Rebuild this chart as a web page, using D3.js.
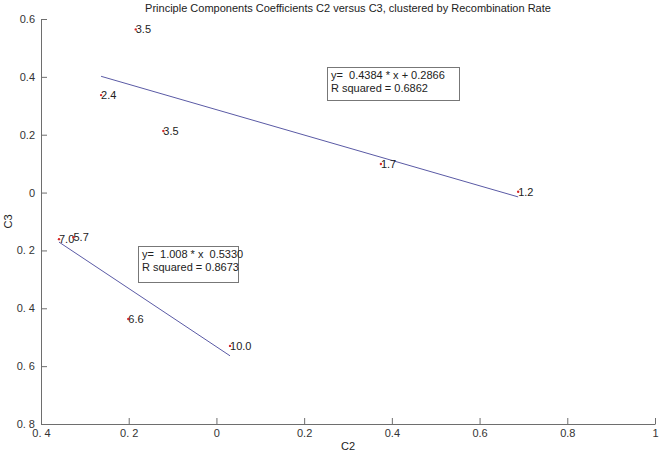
<!DOCTYPE html>
<html lang="en">
<head>
    <meta charset="UTF-8">
    <title>C2 versus C3</title>
    <script src="https://cdn.jsdelivr.net/npm/d3@7"></script>
    <style>
        body { margin: 0; background: #fff; }
        svg { font-family: "Liberation Sans", Arial, sans-serif; }
        svg text { white-space: pre; }
    </style>
</head>
<body>
    <div class="container"></div>
    <script>
        // tick values and labels as printed (minus signs are lost in the original)
        const xTicks = [-0.4, -0.2, 0, 0.2, 0.4, 0.6, 0.8, 1]
        const xTickLabels = ["0. 4", "0. 2", "0", "0.2", "0.4", "0.6", "0.8", "1"]
        const yTicks = [0.6, 0.4, 0.2, 0, -0.2, -0.4, -0.6, -0.8]
        const yTickLabels = ["0.6", "0.4", "0.2", "0", "0. 2", "0. 4", "0. 6", "0. 8"]

        // points: recombination rate label, C2, C3, cluster
        const rates = ["3.5", "2.4", "3.5", "1.7", "1.2", "7.0", "5.7", "6.6", "10.0"]
        const c2 = [-0.184, -0.263, -0.121, 0.375, 0.688, -0.359, -0.326, -0.201, 0.031]
        const c3 = [0.564, 0.337, 0.213, 0.099, 0.003, -0.161, -0.155, -0.437, -0.530]
        const cluster = [0, 0, 0, 0, 0, 1, 1, 1, 1]

        // linear fits per cluster
        const fitSlope = [-0.4384, -1.008]
        const fitIntercept = [0.2866, -0.5330]
        const fitText = [
            ["y=  0.4384 * x + 0.2866", "R squared = 0.6862"],
            ["y=  1.008 * x  0.5330", "R squared = 0.8673"]
        ]

        let w = 661
        let h = 453
        let padL = 41, padR = 655, padT = 19, padB = 424

        let svg = d3.select('.container').append('svg')
            .attr('width', w)
            .attr('height', h)

        let xScale = d3.scaleLinear().domain([-0.4, 1]).range([padL, padR])
        let yScale = d3.scaleLinear().domain([-0.8, 0.6]).range([padB, padT])

        let xAxis = d3.axisBottom(xScale)
            .tickValues(xTicks)
            .tickFormat((d, i) => xTickLabels[i])
            .tickSizeInner(-6)
            .tickSizeOuter(0)
            .tickPadding(5)
        let yAxis = d3.axisLeft(yScale)
            .tickValues(yTicks)
            .tickFormat((d, i) => yTickLabels[i])
            .tickSizeInner(-6)
            .tickSizeOuter(0)
            .tickPadding(6)

        svg.append('g')
            .attr('transform', `translate(0, ${padB})`)
            .call(xAxis)
        svg.append('g')
            .attr('transform', `translate(${padL}, 0)`)
            .call(yAxis)

        svg.selectAll('.domain, .tick line').attr('stroke', '#6e6e6e')
        svg.selectAll('.tick text')
            .attr('fill', '#333')
            .style('font-size', '11px')
            .style('font-family', '"Liberation Sans", Arial, sans-serif')

        // title and axis labels
        svg.append('text')
            .attr('x', (padL + padR) / 2)
            .attr('y', 12)
            .attr('text-anchor', 'middle')
            .attr('font-size', 11)
            .attr('fill', '#222')
            .text('Principle Components Coefficients C2 versus C3, clustered by Recombination Rate')
        svg.append('text')
            .attr('x', (padL + padR) / 2)
            .attr('y', 450)
            .attr('text-anchor', 'middle')
            .attr('font-size', 11)
            .attr('fill', '#222')
            .text('C2')
        svg.append('text')
            .attr('transform', `translate(12, ${(padT + padB) / 2}) rotate(-90)`)
            .attr('text-anchor', 'middle')
            .attr('font-size', 11)
            .attr('fill', '#222')
            .text('C3')

        // regression lines over each cluster's C2 range
        fitSlope.forEach((m, k) => {
            let xs = c2.filter((d, i) => cluster[i] === k)
            let x0 = d3.min(xs), x1 = d3.max(xs)
            svg.append('line')
                .attr('x1', xScale(x0))
                .attr('y1', yScale(m * x0 + fitIntercept[k]))
                .attr('x2', xScale(x1))
                .attr('y2', yScale(m * x1 + fitIntercept[k]))
                .attr('stroke', '#5a5aa5')
                .attr('stroke-width', 1)
        })

        // points with labels
        let pts = svg.selectAll('.pt')
            .data(rates)
            .enter()
            .append('g')
            .attr('class', 'pt')
            .attr('transform', (d, i) => `translate(${xScale(c2[i])}, ${yScale(c3[i])})`)
        pts.append('text')
            .attr('x', 0)
            .attr('y', 4)
            .attr('font-size', 11)
            .attr('fill', '#222')
            .text(d => d)
        pts.append('circle')
            .attr('r', 1.2)
            .attr('fill', '#d62728')

        // fit annotation boxes
        const boxes = [
            { x: 327, y: 67, w: 132, h: 33 },
            { x: 138, y: 246, w: 100, h: 36 }
        ]
        boxes.forEach((b, k) => {
            svg.append('rect')
                .attr('x', b.x + 0.5)
                .attr('y', b.y + 0.5)
                .attr('width', b.w)
                .attr('height', b.h)
                .attr('fill', '#fff')
                .attr('stroke', '#777')
            svg.append('text')
                .attr('x', b.x + 4)
                .attr('y', b.y + 12)
                .attr('font-size', 11)
                .attr('fill', '#222')
                .text(fitText[k][0])
            svg.append('text')
                .attr('x', b.x + 4)
                .attr('y', b.y + 25)
                .attr('font-size', 11)
                .attr('fill', '#222')
                .text(fitText[k][1])
        })
    </script>
</body>
</html>
